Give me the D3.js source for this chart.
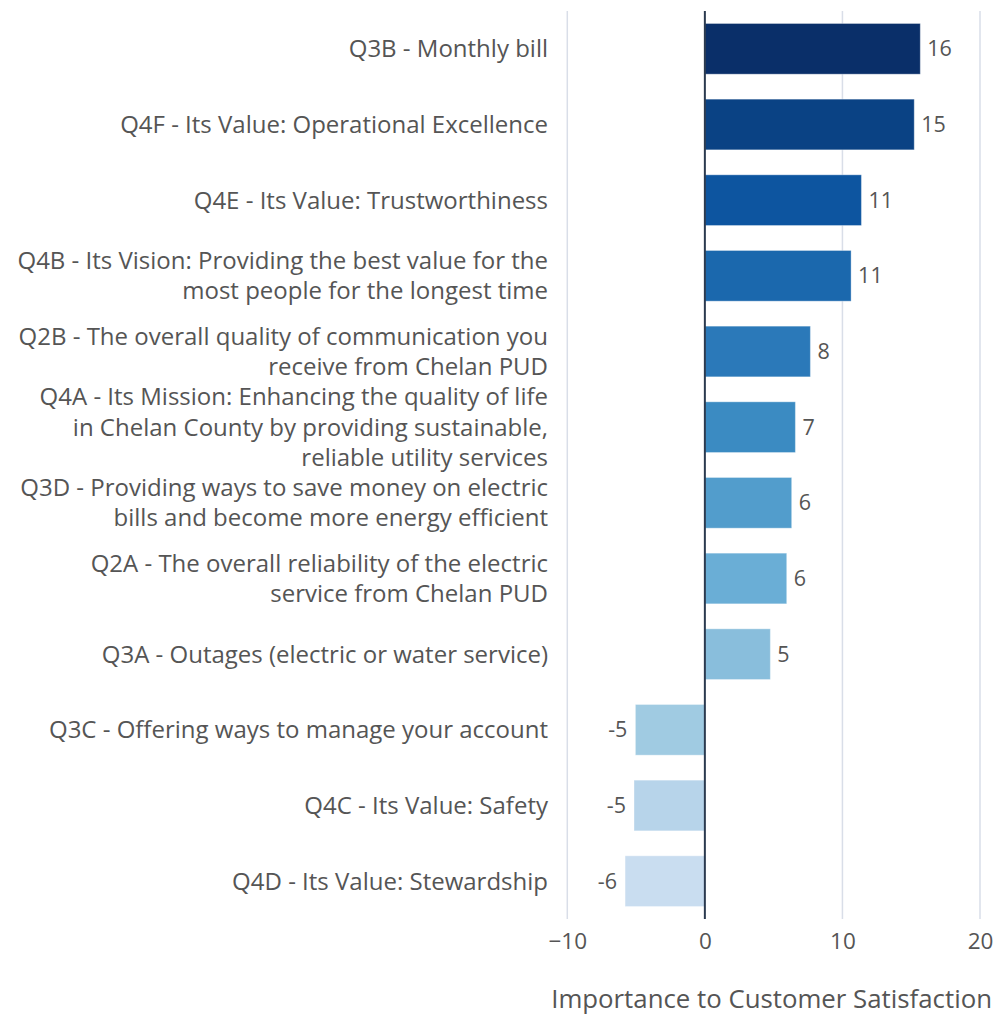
<!DOCTYPE html>
<html>
<head>
<meta charset="utf-8">
<script src="https://cdn.jsdelivr.net/npm/d3@7"></script>
<style>
  html, body { margin: 0; padding: 0; background: #fff; }
  svg { display: block; font-family: "Open Sans", "Noto Sans", sans-serif; }
</style>
</head>
<body>
<svg id="chart" width="995" height="1017"></svg>
<script>
// ---- data ----
const categories = ["Q3B", "Q4F", "Q4E", "Q4B", "Q2B", "Q4A", "Q3D", "Q2A", "Q3A", "Q3C", "Q4C", "Q4D"];
const categoryLabels = [
  ["Q3B - Monthly bill"],
  ["Q4F - Its Value: Operational Excellence"],
  ["Q4E - Its Value: Trustworthiness"],
  ["Q4B - Its Vision: Providing the best value for the", "most people for the longest time"],
  ["Q2B - The overall quality of communication you", "receive from Chelan PUD"],
  ["Q4A - Its Mission: Enhancing the quality of life", "in Chelan County by providing sustainable,", "reliable utility services"],
  ["Q3D - Providing ways to save money on electric", "bills and become more energy efficient"],
  ["Q2A - The overall reliability of the electric", "service from Chelan PUD"],
  ["Q3A - Outages (electric or water service)"],
  ["Q3C - Offering ways to manage your account"],
  ["Q4C - Its Value: Safety"],
  ["Q4D - Its Value: Stewardship"]
];
const values = [15.66, 15.22, 11.38, 10.63, 7.67, 6.58, 6.31, 5.95, 4.76, -5.05, -5.15, -5.80];
const barColors = ["#0a2f69", "#0a4284", "#0d55a0", "#1b68ad", "#2b79b9", "#3b8bc2",
                   "#529dcc", "#6aaed6", "#89bedc", "#a0cbe2", "#b7d4ea", "#c9ddf0"];
const xTicks = [-10, 0, 10, 20];
const xTitle = "Importance to Customer Satisfaction";

// ---- layout ----
const svg = d3.select("#chart");
const plotTop = 11, plotBottom = 919;
const xLeft = 567.3, xRight = 980;

const x = d3.scaleLinear().domain([-10, 20]).range([xLeft, xRight]);
const y = d3.scaleBand().domain(categories).range([plotTop, plotBottom])
  .paddingInner(0.33).paddingOuter(0.165);

const textColor = "#555555";

// gridlines
svg.append("g").selectAll("line").data(xTicks.filter(d => d !== 0)).join("line")
  .attr("x1", d => x(d)).attr("x2", d => x(d))
  .attr("y1", plotTop).attr("y2", plotBottom)
  .attr("stroke", "#d9dee8").attr("stroke-width", 1.5);

// bars
const data = categories.map((c, i) => ({ c, v: values[i], color: barColors[i], label: categoryLabels[i] }));
svg.append("g").selectAll("rect").data(data).join("rect")
  .attr("x", d => x(Math.min(0, d.v)))
  .attr("width", d => Math.abs(x(d.v) - x(0)))
  .attr("y", d => y(d.c))
  .attr("height", y.bandwidth())
  .attr("fill", d => d.color)
  .attr("stroke", "rgba(255,255,255,0.35)")
  .attr("stroke-width", 1);

// zero line
svg.append("line")
  .attr("x1", x(0)).attr("x2", x(0))
  .attr("y1", plotTop).attr("y2", plotBottom)
  .attr("stroke", "#2b3a4f").attr("stroke-width", 2);

// value labels
svg.append("g").selectAll("text").data(data).join("text")
  .attr("x", d => d.v >= 0 ? x(d.v) + 7 : x(d.v) - 8)
  .attr("y", d => y(d.c) + y.bandwidth() / 2)
  .attr("dy", "0.35em")
  .attr("text-anchor", d => d.v >= 0 ? "start" : "end")
  .attr("font-size", 21.5)
  .attr("fill", textColor)
  .text(d => String(Math.round(d.v)));

// category labels
const lineH = 30.5;
const lab = svg.append("g").selectAll("text").data(data).join("text")
  .attr("text-anchor", "end")
  .attr("font-size", 24)
  .attr("fill", textColor);
lab.each(function(d) {
  const t = d3.select(this);
  const n = d.label.length;
  const cy = y(d.c) + y.bandwidth() / 2;
  d.label.forEach((line, i) => {
    t.append("tspan")
      .attr("x", 548)
      .attr("y", cy + (i - (n - 1) / 2) * lineH)
      .attr("dy", "0.35em")
      .text(line);
  });
});

// x axis
const axis = svg.append("g")
  .attr("transform", `translate(0,${plotBottom})`)
  .call(d3.axisBottom(x).tickValues(xTicks).tickSize(0).tickPadding(14).tickFormat(d3.format("d")));
axis.select(".domain").remove();
axis.selectAll("text")
  .attr("font-size", 22.5)
  .attr("fill", textColor)
  .attr("font-family", "\"Open Sans\", \"Noto Sans\", sans-serif");

// axis title
svg.append("text")
  .attr("x", 992).attr("y", 1008)
  .attr("text-anchor", "end")
  .attr("font-size", 25.8)
  .attr("fill", textColor)
  .text(xTitle);
</script>
</body>
</html>
